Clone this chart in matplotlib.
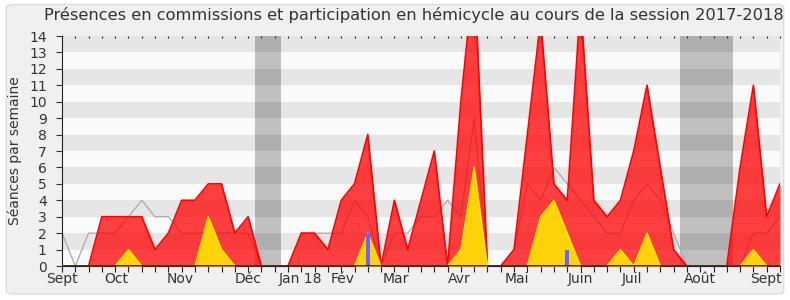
import matplotlib
matplotlib.use('Agg')
import matplotlib.pyplot as plt
from matplotlib.patches import FancyBboxPatch
import numpy as np

# weekly values, session 2017-2018 (week 0 = first week of Sept 2017)
weeks = np.arange(55)
presences = [0, 0, 0, 3, 3, 3, 3, 1, 2, 4, 4, 5, 5, 2, 3, 0, 0, 0, 2, 2,
             1, 4, 5, 8, 0, 4, 1, 4, 7, 0, 10, 18, 0, 0, 1, 8, 15, 5, 4, 16,
             4, 3, 4, 7, 11, 6, 1, 0, 0, 0, 0, 6, 11, 3, 5]
mediane = [2, 0, 2, 2, 2, 3, 4, 3, 3, 2, 2, 2, 2, 2, 2, 0, 0, 0, 2, 2,
           2, 2, 4, 3, 0, 2, 2, 3, 3, 4, 3, 9, 0, 0, 1, 5, 4, 6, 5, 4,
           3, 2, 2, 4, 5, 4, 2, 0, 0, 0, 0, 0, 2, 2, 3]
hemicycle = [0, 0, 0, 0, 0, 1, 0, 0, 0, 0, 0, 3, 1, 0, 0, 0, 0, 0, 0, 0,
             0, 0, 0, 2, 0, 0, 0, 0, 0, 0, 1, 6, 0, 0, 0, 0, 3, 4, 2, 0,
             0, 0, 1, 0, 2, 0, 0, 0, 0, 0, 0, 0, 1, 0, 0]
questions_weeks = [23, 38]
questions = [2, 1]
vacances = [(14.5, 16.5), (46.5, 50.5)]
month_pos = [0, 4.1, 8.9, 14, 17.9, 21.1, 25.1, 29.9, 34.2, 39, 42.9, 48, 52.95]
month_labels = ['Sept', 'Oct', 'Nov', 'Déc', 'Jan 18', 'Fév', 'Mar', 'Avr',
                'Mai', 'Juin', 'Juil', 'Août', 'Sept']

txt = '#333333'
fig = plt.figure(figsize=(7.9, 3.0), dpi=100, facecolor='white')
fig.patches.append(FancyBboxPatch((0.008, 0.02), 0.984, 0.965,
                                  boxstyle='round,pad=0,rounding_size=0.01',
                                  transform=fig.transFigure, facecolor='#f0f0f0',
                                  edgecolor='#dddddd', linewidth=1, zorder=-10))
ax = fig.add_axes([62 / 790, 1 - 266 / 300, 718 / 790, 230 / 300])
ax.set_facecolor('#fafafa')

for i in range(1, 14, 2):
    ax.axhspan(i, i + 1, color='#e6e6e6', lw=0, zorder=0)
for a, b in vacances:
    ax.axvspan(a, b, color='black', alpha=0.235, lw=0, zorder=1)

ax.plot(weeks, mediane, color='#aaaaaa', lw=0.9, zorder=2)
ax.fill_between(weeks, presences, color='#ff0000', alpha=0.75, lw=0, zorder=3)
ax.plot(weeks, presences, color='#ff0000', lw=1.2, zorder=4)
ax.fill_between(weeks, hemicycle, color='#ffd20a', lw=0, zorder=5)
ax.plot(weeks, hemicycle, color='#ffee00', lw=1, zorder=6)
ax.bar(questions_weeks, questions, width=0.3, color='#6666ff', zorder=7)
ax.axhline(0, color='#222222', lw=1.2, zorder=8)

ax.set_xlim(0, 54)
ax.set_ylim(0, 14)
ax.set_yticks(range(15))
ax.tick_params(axis='y', length=4, pad=7, labelsize=10, colors=txt)
ax.set_xticks(weeks)
ax.set_xticklabels([])
ax.tick_params(axis='x', which='major', length=4, direction='out', color='#222222',
               top=True)
ax.xaxis.remove_overlapping_locs = False
ax.set_xticks(month_pos, minor=True)
ax.set_xticklabels(month_labels, minor=True)
ax.tick_params(axis='x', which='minor', length=0, pad=4, labelsize=10, labelcolor=txt)
for t in ax.xaxis.get_major_ticks():
    t.tick2line.set_markersize(1.2)
    t.tick2line.set_marker(3)

for s in ['top', 'right']:
    ax.spines[s].set_visible(False)
ax.spines['left'].set_color('#222222')
ax.spines['bottom'].set_color('#222222')

ax.set_ylabel('Séances par semaine', fontsize=10, color=txt, labelpad=5)
fig.text(0.524, 1 - 15 / 300, 'Présences en commissions et participation en hémicycle au cours de la session 2017-2018',
         ha='center', va='center', fontsize=11.7, color=txt)

fig.savefig('out.png', dpi=100, facecolor=fig.get_facecolor())
